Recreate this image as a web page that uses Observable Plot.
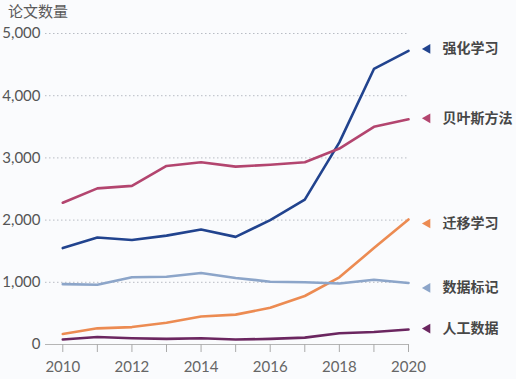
<!DOCTYPE html>
<html>
<head>
<meta charset="utf-8">
<script src="https://cdn.jsdelivr.net/npm/d3@7"></script>
<script src="https://cdn.jsdelivr.net/npm/@observablehq/plot@0.6"></script>
<style>
  html, body { margin: 0; padding: 0; background: #ffffff; }
  #wrap { width: 516px; height: 379px; position: relative; background: #fafbfd; font-family: Lato, "Noto Sans CJK SC", sans-serif; }
  #title { height: 22px; padding-left: 8px; font-size: 15px; line-height: 22px; color: #5a5a5a; font-family: "Noto Sans CJK SC", sans-serif; }
</style>
</head>
<body>
<div id="wrap"><div id="title">论文数量</div><div id="chart"></div></div>
<script>
const years = [2010, 2011, 2012, 2013, 2014, 2015, 2016, 2017, 2018, 2019, 2020];
const seriesNames = ["强化学习", "贝叶斯方法", "迁移学习", "数据标记", "人工数据"];
const reinforcement = [1550, 1720, 1680, 1750, 1850, 1730, 2000, 2330, 3250, 4430, 4720];
const bayesian      = [2280, 2510, 2550, 2870, 2930, 2860, 2890, 2930, 3150, 3500, 3620];
const transfer      = [170, 260, 280, 350, 450, 480, 590, 780, 1080, 1550, 2010];
const labeling      = [970, 960, 1080, 1090, 1150, 1070, 1010, 1000, 980, 1040, 990];
const synthetic     = [80, 120, 100, 90, 100, 80, 90, 110, 180, 200, 240];
const yTicks = [0, 1000, 2000, 3000, 4000, 5000];
const colors = ["#21438e", "#b3456f", "#ec8b52", "#8ca5c9", "#6b2660"];

const allValues = [reinforcement, bayesian, transfer, labeling, synthetic];
const data = [];
seriesNames.forEach((name, i) => {
  years.forEach((yr, j) => data.push({series: name, year: yr, value: allValues[i][j]}));
});
const last = data.filter(d => d.year === years[years.length - 1]);
const labelShift = {"强化学习": -2, "贝叶斯方法": -1, "迁移学习": 4, "数据标记": 5, "人工数据": -1};

const labelMarks = last.flatMap(d => [
  Plot.dot([d], {x: "year", y: "value", dx: 19, dy: labelShift[d.series], symbol: "triangle", rotate: -90, r: 3.6, fill: "series", stroke: "none"}),
  Plot.text([d], {x: "year", y: "value", text: "series", dx: 34, dy: labelShift[d.series], textAnchor: "start", fill: "#474747", fontWeight: "bold", fontSize: 14})
]);

const fmt = d3.format(",");
const chart = Plot.plot({
  width: 516,
  height: 357,
  marginLeft: 45,
  marginRight: 108,
  marginTop: 11,
  marginBottom: 35,
  style: {fontFamily: 'Lato, "Noto Sans CJK SC", sans-serif', fontSize: "15px", background: "transparent", overflow: "visible"},
  x: {domain: [2009.5, 2020]},
  y: {domain: [0, 5000]},
  color: {domain: seriesNames, range: colors},
  marks: [
    Plot.ruleY(yTicks.filter(d => d > 0), {stroke: "#b8bcc4", strokeDasharray: "1.5,2.5", strokeWidth: 1}),
    Plot.ruleY([0], {stroke: "#b5b5b5", strokeWidth: 1.2}),
    Plot.axisY({ticks: yTicks, tickFormat: fmt, tickSize: 0, tickPadding: 5, color: "#555", fontSize: 15, label: null}),
    Plot.axisX({ticks: years, tickFormat: d => d % 2 === 0 ? String(d) : "", tickSize: 8, tickPadding: 9, color: "#666", stroke: "#aaa", fontSize: 15, label: null}),
    Plot.line(data, {x: "year", y: "value", z: "series", stroke: "series", strokeWidth: 2.6}),
    ...labelMarks
  ]
});
document.getElementById("chart").appendChild(chart);
</script>
</body>
</html>
